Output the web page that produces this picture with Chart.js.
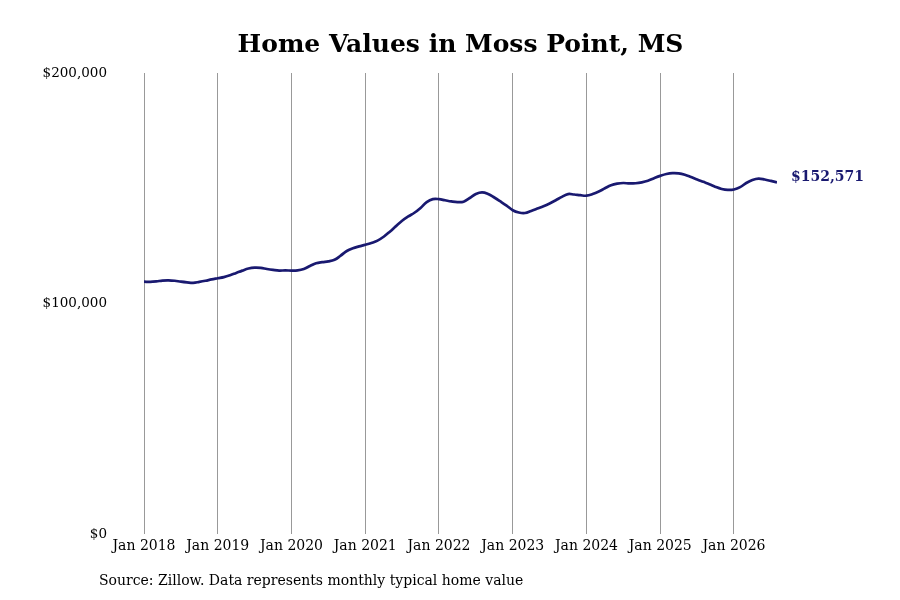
<!DOCTYPE html>
<html>
<head>
<meta charset="utf-8">
<script src="https://cdn.jsdelivr.net/npm/chart.js@4.4.1/dist/chart.umd.min.js"></script>
<style>
    body { margin: 0; background: #fff; }
    #wrap { width: 900px; height: 600px; }
</style>
</head>
<body>
<div id="wrap"><canvas id="homeChart" width="900" height="600"></canvas></div>

<script>
    // monthly typical home value, Jan 2018 .. Aug 2026
    const startYear = 2018
    const homeValues = [
        109500, 109400, 109600, 110000, 110100, 109900, 109500, 109200, 109000, 109400, 109900, 110500, // 2018
        111000, 111500, 112300, 113300, 114300, 115200, 115600, 115500, 115000, 114600, 114300, 114400, // 2019
        114300, 114400, 115000, 116300, 117500, 118000, 118300, 119000, 120800, 122800, 124000, 124800, // 2020
        125500, 126300, 127300, 129000, 131200, 133600, 135900, 137800, 139400, 141500, 144000, 145300, // 2021
        145300, 144800, 144300, 144000, 144200, 145800, 147500, 148200, 147500, 146000, 144300, 142500, // 2022
        140500, 139500, 139300, 140200, 141200, 142200, 143400, 144800, 146300, 147500, 147300, 147000, // 2023
        146800, 147500, 148600, 150000, 151300, 152000, 152300, 152100, 152200, 152600, 153300, 154400, // 2024
        155400, 156200, 156600, 156500, 155900, 154900, 153800, 152800, 151800, 150600, 149700, 149300, // 2025
        149500, 150500, 152300, 153600, 154200, 153800, 153200, 152571                                  // 2026
    ]
    const yearLabels = ['Jan 2018', 'Jan 2019', 'Jan 2020', 'Jan 2021', 'Jan 2022', 'Jan 2023', 'Jan 2024', 'Jan 2025', 'Jan 2026']
    const yTicks = [0, 100000, 200000]

    const serif = "'DejaVu Serif', serif"
    const navy = '#191970'

    function money(v) {
        return '$' + Math.round(v).toLocaleString('en-US')
    }

    // end label + source line
    const extras = {
        id: 'extras',
        afterDatasetsDraw(chart) {
            const ctx = chart.ctx
            const meta = chart.getDatasetMeta(0)
            const last = meta.data[meta.data.length - 1]
            ctx.save()
            ctx.font = 'bold 14px ' + serif
            ctx.fillStyle = navy
            ctx.textAlign = 'left'
            ctx.textBaseline = 'middle'
            ctx.fillText(money(homeValues[homeValues.length - 1]), last.x + 14, last.y - 5)

            ctx.font = '14px ' + serif
            ctx.fillStyle = '#000'
            ctx.fillText('Source: Zillow. Data represents monthly typical home value', 99, 581)
            ctx.restore()
        }
    }

    const ctx = document.getElementById('homeChart').getContext('2d')
    const chart = new Chart(ctx, {
        type: 'line',
        data: {
            datasets: [{
                data: homeValues.map((v, i) => ({ x: i, y: v })),
                borderColor: navy,
                borderWidth: 2.7,
                pointRadius: 0,
                tension: 0.4,
                fill: false
            }]
        },
        options: {
            responsive: false,
            animation: false,
            layout: {
                padding: { left: 0, right: 123, top: 0, bottom: 41 }
            },
            plugins: {
                legend: { display: false },
                tooltip: { enabled: false },
                title: {
                    display: true,
                    text: 'Home Values in Moss Point, MS',
                    fullSize: false,
                    color: '#000',
                    font: { family: serif, size: 25, weight: 'bold' },
                    padding: { top: 30, bottom: 13 }
                }
            },
            scales: {
                x: {
                    type: 'linear',
                    min: 0,
                    max: homeValues.length - 1,
                    afterBuildTicks: scale => {
                        scale.ticks = yearLabels.map((l, i) => ({ value: i * 12 }))
                    },
                    ticks: {
                        autoSkip: false,
                        maxRotation: 0,
                        padding: 4,
                        color: '#000',
                        font: { family: serif, size: 14 },
                        callback: v => yearLabels[Math.round(v / 12)]
                    },
                    grid: { display: true, color: '#999', lineWidth: 1, drawTicks: false },
                    border: { display: false }
                },
                y: {
                    min: 0,
                    max: 200000,
                    afterBuildTicks: scale => {
                        scale.ticks = yTicks.map(v => ({ value: v }))
                    },
                    afterFit: scale => { scale.width = 144 },
                    ticks: {
                        padding: 37,
                        color: '#000',
                        font: { family: serif, size: 13.5 },
                        callback: v => money(v)
                    },
                    grid: { display: false, drawTicks: false },
                    border: { display: false }
                }
            }
        },
        plugins: [extras]
    });
</script>
</body>
</html>
